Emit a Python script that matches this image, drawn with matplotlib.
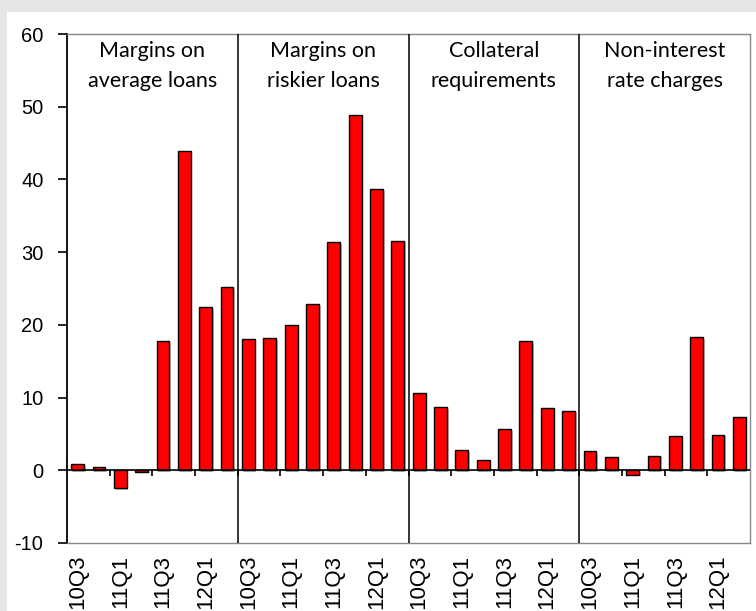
import matplotlib.pyplot as plt
import matplotlib.patheffects as pe
from matplotlib.patches import Rectangle

plt.rcParams['axes.unicode_minus'] = False

# Dados
trimestres = ['10Q3', '10Q4', '11Q1', '11Q2', '11Q3', '11Q4', '12Q1', '12Q2']
grupos = ['Margins on\naverage loans', 'Margins on\nriskier loans',
          'Collateral\nrequirements', 'Non-interest\nrate charges']

margens_media = [0.8, 0.4, -2.5, -0.2, 17.8, 43.9, 22.4, 25.2]
margens_risco = [18.0, 18.2, 20.0, 22.8, 31.4, 48.9, 38.7, 31.6]
garantias = [10.6, 8.7, 2.8, 1.4, 5.7, 17.8, 8.5, 8.2]
outras_taxas = [2.6, 1.8, -0.6, 2.0, 4.7, 18.3, 4.9, 7.3]

series = [margens_media, margens_risco, garantias, outras_taxas]
valores = [v for s in series for v in s]
n = len(trimestres)
idx = list(range(len(valores)))

fig = plt.figure(figsize=(7.56, 6.11), dpi=100, facecolor='#e6e6e6')
# painel branco
fig.patches.append(Rectangle((7 / 756, 0), 1, 1 - 12 / 611, transform=fig.transFigure,
                             facecolor='white', edgecolor='none', zorder=-10))

ax = fig.add_axes([67 / 756, 1 - 543 / 611, (750 - 67) / 756, (543 - 34) / 611])
ax.set_facecolor('white')

sombra = [pe.SimplePatchShadow(offset=(1.2, -1.2), shadow_rgbFace='#999999', alpha=0.6),
          pe.Normal()]
bars = ax.bar(idx, valores, width=0.6, color='#ff0000', edgecolor='black',
              linewidth=1.0, zorder=3)
for b in bars:
    b.set_path_effects(sombra)

ax.set_xlim(-0.5, len(valores) - 0.5)
ax.set_ylim(-10, 60)
ax.set_yticks(range(-10, 61, 10))

ax.axhline(0, color='black', linewidth=1.2, zorder=4)

# separadores de grupo
for g in range(1, len(grupos)):
    ax.axvline(g * n - 0.5, color='black', linewidth=1.1, zorder=4)

# marcas do eixo de categorias (a cada 2 trimestres)
marcas = [i - 0.5 for i in range(2, len(valores), 2)]
ax.vlines(marcas, -0.85, 0, color='black', linewidth=1.2, zorder=4)

# rótulos
pos = [g * n + k for g in range(len(grupos)) for k in range(0, n, 2)]
rotulos = [trimestres[k] for g in range(len(grupos)) for k in range(0, n, 2)]
ax.set_xticks(pos, rotulos, rotation=90, fontsize=16, family='Liberation Sans')
ax.tick_params(axis='x', length=0, pad=8.5)
ax.tick_params(axis='y', length=6.5, width=1.2, pad=10.5, labelsize=14.5)
for lab in ax.get_yticklabels():
    lab.set_family('Liberation Sans')

for s in ['top', 'right', 'bottom']:
    ax.spines[s].set_color('#888888')
    ax.spines[s].set_linewidth(1.0)
ax.spines['left'].set_color('black')
ax.spines['left'].set_linewidth(1.3)

for g, nome in enumerate(grupos):
    linhas = nome.split('\n')
    cx = g * n + (n - 1) / 2
    for linha, yb in zip(linhas, [0.9548, 0.8959]):
        ax.text(cx, yb, linha, transform=ax.get_xaxis_transform(), ha='center',
                va='baseline', fontsize=15.5, family='Lato', zorder=5)

fig.savefig('out.png', dpi=100, facecolor=fig.get_facecolor())
